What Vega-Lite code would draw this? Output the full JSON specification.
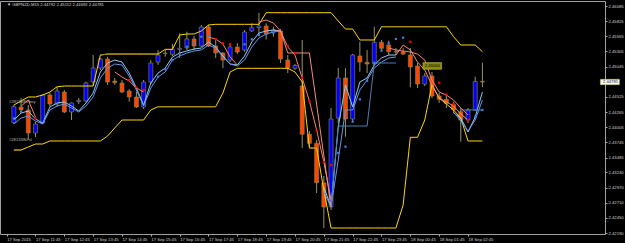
{
"$schema":"https://vega.github.io/schema/vega-lite/v6.json",
"width":605,"height":233,
"autosize":{"type":"none"},
"padding":{"left":0,"top":1,"right":20,"bottom":9},
"background":"#000000",
"config":{
 "view":{"stroke":"#a0a0a0","strokeWidth":1},
 "axis":{"grid":false,"domain":false,"labelFont":"Liberation Sans","labelFontSize":4.2,"labelColor":"#d0d0d0","tickColor":"#b0b0b0","tickSize":2,"labelPadding":1,"labelOverlap":false,"labelBound":false,"labelFlush":false,"labelSeparation":0},
 "text":{"font":"Liberation Sans","fontSize":4.2}
},
"resolve":{"axis":{"x":"independent","y":"independent"}},
"datasets":{
"bars":[
{"t":"2015-09-17T11:00","o":2.44083,"h":2.44386,"l":2.44060,"c":2.44357,"u":2.44386,"d":2.43614,"bd":2.44158},
{"t":"2015-09-17T11:15","o":2.44352,"h":2.44506,"l":2.44266,"c":2.44301,"u":2.44455,"d":2.43614,"bd":2.44271},
{"t":"2015-09-17T11:30","o":2.44301,"h":2.44386,"l":2.43786,"c":2.43906,"u":2.44524,"d":2.43666},
{"t":"2015-09-17T11:45","o":2.43906,"h":2.44095,"l":2.43837,"c":2.44060,"u":2.44524,"d":2.43717,"rd":2.44158},
{"t":"2015-09-17T12:00","o":2.44077,"h":2.44575,"l":2.44060,"c":2.44558,"u":2.44558,"d":2.43717},
{"t":"2015-09-17T12:15","o":2.44558,"h":2.44597,"l":2.44357,"c":2.44403,"u":2.44609,"d":2.43769},
{"t":"2015-09-17T12:30","o":2.44403,"h":2.44700,"l":2.44357,"c":2.44627,"u":2.44700,"d":2.43769},
{"t":"2015-09-17T12:45","o":2.44609,"h":2.44644,"l":2.44249,"c":2.44266,"u":2.44712,"d":2.43769},
{"t":"2015-09-17T13:00","o":2.44266,"h":2.44430,"l":2.44129,"c":2.44421,"u":2.44712,"d":2.43769},
{"t":"2015-09-17T13:15","o":2.44446,"h":2.44506,"l":2.44403,"c":2.44464,"u":2.44712,"d":2.43769},
{"t":"2015-09-17T13:30","o":2.44455,"h":2.44786,"l":2.44438,"c":2.44764,"u":2.44712,"d":2.43769},
{"t":"2015-09-17T13:45","o":2.44781,"h":2.45244,"l":2.44730,"c":2.45021,"u":2.44712,"d":2.43769},
{"t":"2015-09-17T14:00","o":2.45021,"h":2.45193,"l":2.44987,"c":2.45176,"u":2.45244,"d":2.43769},
{"t":"2015-09-17T14:15","o":2.45176,"h":2.45215,"l":2.44730,"c":2.44781,"u":2.45261,"d":2.43854},
{"t":"2015-09-17T14:30","o":2.44798,"h":2.44850,"l":2.44730,"c":2.44769,"u":2.45261,"d":2.43992},
{"t":"2015-09-17T14:45","o":2.44764,"h":2.44815,"l":2.44592,"c":2.44609,"u":2.45261,"d":2.44129},
{"t":"2015-09-17T15:00","o":2.44627,"h":2.44661,"l":2.44443,"c":2.44524,"u":2.45261,"d":2.44129,"rd":2.44815},
{"t":"2015-09-17T15:15","o":2.44524,"h":2.44615,"l":2.44335,"c":2.44352,"u":2.45261,"d":2.44129,"rd":2.44690},
{"t":"2015-09-17T15:30","o":2.44352,"h":2.44815,"l":2.44318,"c":2.44781,"u":2.45261,"d":2.44129,"rd":2.44644},
{"t":"2015-09-17T15:45","o":2.44781,"h":2.45158,"l":2.44747,"c":2.45107,"u":2.45261,"d":2.44301},
{"t":"2015-09-17T16:00","o":2.45124,"h":2.45330,"l":2.45073,"c":2.45244,"u":2.45261,"d":2.44357,"bd":2.44872},
{"t":"2015-09-17T16:15","o":2.45270,"h":2.45330,"l":2.45215,"c":2.45279,"u":2.45342,"d":2.44357,"bd":2.44999},
{"t":"2015-09-17T16:30","o":2.45256,"h":2.45433,"l":2.45227,"c":2.45342,"u":2.45342,"d":2.44357,"bd":2.45158},
{"t":"2015-09-17T16:45","o":2.45342,"h":2.45617,"l":2.45193,"c":2.45359,"u":2.45587,"d":2.44357,"bd":2.45273},
{"t":"2015-09-17T17:00","o":2.45364,"h":2.45644,"l":2.45330,"c":2.45519,"u":2.45605,"d":2.44357,"bd":2.45387},
{"t":"2015-09-17T17:15","o":2.45519,"h":2.45570,"l":2.45330,"c":2.45399,"u":2.45605,"d":2.44357,"bd":2.45445},
{"t":"2015-09-17T17:30","o":2.45399,"h":2.45759,"l":2.45381,"c":2.45725,"u":2.45656,"d":2.44357,"bd":2.45558},
{"t":"2015-09-17T17:45","o":2.45725,"h":2.45759,"l":2.45381,"c":2.45399,"u":2.45759,"d":2.44357,"bd":2.45570},
{"t":"2015-09-17T18:00","o":2.45399,"h":2.45502,"l":2.45193,"c":2.45279,"u":2.45771,"d":2.44357,"rd":2.45519},
{"t":"2015-09-17T18:15","o":2.45279,"h":2.45296,"l":2.45021,"c":2.45158,"u":2.45771,"d":2.44592,"rd":2.45445},
{"t":"2015-09-17T18:30","o":2.45158,"h":2.45450,"l":2.45124,"c":2.45381,"u":2.45771,"d":2.44953,"rd":2.45428},
{"t":"2015-09-17T18:45","o":2.45381,"h":2.45450,"l":2.45261,"c":2.45296,"u":2.45771,"d":2.45016},
{"t":"2015-09-17T19:00","o":2.45330,"h":2.45673,"l":2.45301,"c":2.45639,"u":2.45771,"d":2.45016,"bd":2.45428},
{"t":"2015-09-17T19:15","o":2.45656,"h":2.45788,"l":2.45639,"c":2.45713,"u":2.45771,"d":2.45016,"bd":2.45514},
{"t":"2015-09-17T19:30","o":2.45716,"h":2.45965,"l":2.45605,"c":2.45742,"u":2.45771,"d":2.45016,"bd":2.45587},
{"t":"2015-09-17T19:45","o":2.45742,"h":2.45788,"l":2.45514,"c":2.45605,"u":2.45970,"d":2.45016,"bd":2.45605},
{"t":"2015-09-17T20:00","o":2.45639,"h":2.45730,"l":2.45558,"c":2.45673,"u":2.45970,"d":2.45016,"bd":2.45627},
{"t":"2015-09-17T20:15","o":2.45656,"h":2.45690,"l":2.45107,"c":2.45176,"u":2.45970,"d":2.45016},
{"t":"2015-09-17T20:30","o":2.45158,"h":2.45244,"l":2.44935,"c":2.45021,"u":2.45970,"d":2.45016,"rd":2.45399},
{"t":"2015-09-17T20:45","o":2.45016,"h":2.45090,"l":2.44987,"c":2.45064,"u":2.45970,"d":2.44953,"rd":2.45273},
{"t":"2015-09-17T21:00","o":2.44712,"h":2.45502,"l":2.43648,"c":2.43884,"u":2.45970,"d":2.44781,"rd":2.44855},
{"t":"2015-09-17T21:15","o":2.43884,"h":2.43940,"l":2.43666,"c":2.43729,"u":2.45970,"d":2.43648,"rd":2.44455},
{"t":"2015-09-17T21:30","o":2.43729,"h":2.43786,"l":2.42876,"c":2.43053,"u":2.45970,"d":2.43648,"rd":2.43945},
{"t":"2015-09-17T21:45","o":2.43048,"h":2.43168,"l":2.42276,"c":2.42636,"u":2.45970,"d":2.42928,"rd":2.43413},
{"t":"2015-09-17T22:00","o":2.42636,"h":2.44335,"l":2.42585,"c":2.44146,"u":2.45970,"d":2.42276,"rd":2.43357},
{"t":"2015-09-17T22:15","o":2.44163,"h":2.45021,"l":2.44077,"c":2.44850,"u":2.45828,"d":2.42276,"bd":2.43563},
{"t":"2015-09-17T22:30","o":2.44850,"h":2.45016,"l":2.43842,"c":2.44146,"u":2.45690,"d":2.42276,"bd":2.43671},
{"t":"2015-09-17T22:45","o":2.44146,"h":2.45261,"l":2.44112,"c":2.45244,"u":2.45690,"d":2.42276,"bd":2.44100},
{"t":"2015-09-17T23:00","o":2.45227,"h":2.45472,"l":2.44958,"c":2.45124,"u":2.45502,"d":2.42276,"bd":2.44484},
{"t":"2015-09-17T23:15","o":2.45119,"h":2.45330,"l":2.44935,"c":2.45090,"u":2.45502,"d":2.42276,"bd":2.44803},
{"t":"2015-09-17T23:30","o":2.45090,"h":2.45730,"l":2.45073,"c":2.45462,"u":2.45502,"d":2.42276,"bd":2.45112},
{"t":"2015-09-17T23:45","o":2.45462,"h":2.45502,"l":2.45313,"c":2.45359,"u":2.45730,"d":2.42276,"bd":2.45318},
{"t":"2015-09-18T00:00","o":2.45416,"h":2.45490,"l":2.45244,"c":2.45301,"u":2.45730,"d":2.42276,"bd":2.45445},
{"t":"2015-09-18T00:15","o":2.45304,"h":2.45364,"l":2.45244,"c":2.45297,"u":2.45730,"d":2.42276,"bd":2.45519},
{"t":"2015-09-18T00:30","o":2.45301,"h":2.45364,"l":2.45244,"c":2.45261,"u":2.45730,"d":2.42670,"bd":2.45541},
{"t":"2015-09-18T00:45","o":2.45244,"h":2.45364,"l":2.44690,"c":2.45038,"u":2.45730,"d":2.43832,"rd":2.45472},
{"t":"2015-09-18T01:00","o":2.45056,"h":2.45107,"l":2.44678,"c":2.44747,"u":2.45730,"d":2.43832},
{"t":"2015-09-18T01:15","o":2.44747,"h":2.44935,"l":2.44712,"c":2.44884,"u":2.45730,"d":2.44129},
{"t":"2015-09-18T01:30","o":2.44884,"h":2.44953,"l":2.44506,"c":2.44541,"u":2.45730,"d":2.44730},
{"t":"2015-09-18T01:45","o":2.44541,"h":2.44592,"l":2.44421,"c":2.44484,"u":2.45730,"d":2.44506,"rd":2.44769},
{"t":"2015-09-18T02:00","o":2.44484,"h":2.44558,"l":2.44335,"c":2.44415,"u":2.45730,"d":2.44403,"rd":2.44567},
{"t":"2015-09-18T02:15","o":2.44398,"h":2.44443,"l":2.44249,"c":2.44301,"u":2.45558,"d":2.44301,"rd":2.44398},
{"t":"2015-09-18T02:30","o":2.44271,"h":2.44335,"l":2.43757,"c":2.44129,"u":2.45416,"d":2.44163},
{"t":"2015-09-18T02:45","o":2.44129,"h":2.44335,"l":2.44077,"c":2.44301,"u":2.45416,"d":2.43769,"rd":2.44129},
{"t":"2015-09-18T03:00","o":2.44301,"h":2.44872,"l":2.44283,"c":2.44790,"u":2.45416,"d":2.43769,"bd":2.44186},
{"t":"2015-09-18T03:15","o":2.44792,"h":2.45112,"l":2.44692,"c":2.44781,"u":2.45301,"d":2.43769,"bd":2.44301}
],
"lines":[
{"s":"b1","g":1,"t":"2015-09-17T11:00","v":2.44129},{"s":"b1","g":1,"t":"2015-09-17T11:15","v":2.44249},{"s":"b1","g":1,"t":"2015-09-17T11:30","v":2.44283},{"s":"b1","g":1,"t":"2015-09-17T11:45","v":2.44146},{"s":"b1","g":1,"t":"2015-09-17T12:00","v":2.44077},{"s":"b1","g":1,"t":"2015-09-17T12:15","v":2.44352},{"s":"b1","g":1,"t":"2015-09-17T12:30","v":2.44421},{"s":"b1","g":1,"t":"2015-09-17T12:45","v":2.44438},{"s":"b1","g":1,"t":"2015-09-17T13:00","v":2.44369},{"s":"b1","g":1,"t":"2015-09-17T13:15","v":2.44283},{"s":"b1","g":1,"t":"2015-09-17T13:30","v":2.44421},{"s":"b1","g":1,"t":"2015-09-17T13:45","v":2.44592},{"s":"b1","g":1,"t":"2015-09-17T14:00","v":2.44953},{"s":"b1","g":1,"t":"2015-09-17T14:15","v":2.45107},{"s":"b1","g":1,"t":"2015-09-17T14:30","v":2.45158},{"s":"b1","g":1,"t":"2015-09-17T14:45","v":2.45124},{"s":"b1","g":1,"t":"2015-09-17T15:00","v":2.44935},{"s":"b1","g":1,"t":"2015-09-17T15:15","v":2.44678},{"s":"b1","g":1,"t":"2015-09-17T15:30","v":2.44386},{"s":"b1","g":1,"t":"2015-09-17T15:45","v":2.44764},{"s":"b1","g":1,"t":"2015-09-17T16:00","v":2.44935},{"s":"b1","g":1,"t":"2015-09-17T16:15","v":2.45021},{"s":"b1","g":1,"t":"2015-09-17T16:30","v":2.45210},{"s":"b1","g":1,"t":"2015-09-17T16:45","v":2.45279},{"s":"b1","g":1,"t":"2015-09-17T17:00","v":2.45313},{"s":"b1","g":1,"t":"2015-09-17T17:15","v":2.45347},{"s":"b1","g":1,"t":"2015-09-17T17:30","v":2.45364},{"s":"b1","g":1,"t":"2015-09-17T17:45","v":2.45467},{"s":"b1","g":1,"t":"2015-09-17T18:00","v":2.45381},{"s":"b1","g":1,"t":"2015-09-17T18:15","v":2.45227},{"s":"b1","g":1,"t":"2015-09-17T18:30","v":2.45090},{"s":"b1","g":1,"t":"2015-09-17T18:45","v":2.45073},{"s":"b1","g":1,"t":"2015-09-17T19:00","v":2.45227},{"s":"b1","g":1,"t":"2015-09-17T19:15","v":2.45467},{"s":"b1","g":1,"t":"2015-09-17T19:30","v":2.45622},{"s":"b1","g":1,"t":"2015-09-17T19:45","v":2.45656},{"s":"b1","g":1,"t":"2015-09-17T20:00","v":2.45673},{"s":"b1","g":1,"t":"2015-09-17T20:15","v":2.45656},
{"s":"b2","g":1,"t":"2015-09-17T11:00","v":2.44060},{"s":"b2","g":1,"t":"2015-09-17T11:15","v":2.44163},{"s":"b2","g":1,"t":"2015-09-17T11:30","v":2.44198},{"s":"b2","g":1,"t":"2015-09-17T11:45","v":2.44112},{"s":"b2","g":1,"t":"2015-09-17T12:00","v":2.44060},{"s":"b2","g":1,"t":"2015-09-17T12:15","v":2.44301},{"s":"b2","g":1,"t":"2015-09-17T12:30","v":2.44369},{"s":"b2","g":1,"t":"2015-09-17T12:45","v":2.44403},{"s":"b2","g":1,"t":"2015-09-17T13:00","v":2.44335},{"s":"b2","g":1,"t":"2015-09-17T13:15","v":2.44266},{"s":"b2","g":1,"t":"2015-09-17T13:30","v":2.44369},{"s":"b2","g":1,"t":"2015-09-17T13:45","v":2.44524},{"s":"b2","g":1,"t":"2015-09-17T14:00","v":2.44850},{"s":"b2","g":1,"t":"2015-09-17T14:15","v":2.45021},{"s":"b2","g":1,"t":"2015-09-17T14:30","v":2.45090},{"s":"b2","g":1,"t":"2015-09-17T14:45","v":2.45073},{"s":"b2","g":1,"t":"2015-09-17T15:00","v":2.44884},{"s":"b2","g":1,"t":"2015-09-17T15:15","v":2.44644},{"s":"b2","g":1,"t":"2015-09-17T15:30","v":2.44369},{"s":"b2","g":1,"t":"2015-09-17T15:45","v":2.44678},{"s":"b2","g":1,"t":"2015-09-17T16:00","v":2.44867},{"s":"b2","g":1,"t":"2015-09-17T16:15","v":2.44953},{"s":"b2","g":1,"t":"2015-09-17T16:30","v":2.45158},{"s":"b2","g":1,"t":"2015-09-17T16:45","v":2.45227},{"s":"b2","g":1,"t":"2015-09-17T17:00","v":2.45279},{"s":"b2","g":1,"t":"2015-09-17T17:15","v":2.45313},{"s":"b2","g":1,"t":"2015-09-17T17:30","v":2.45330},{"s":"b2","g":1,"t":"2015-09-17T17:45","v":2.45416},{"s":"b2","g":1,"t":"2015-09-17T18:00","v":2.45364},{"s":"b2","g":1,"t":"2015-09-17T18:15","v":2.45210},{"s":"b2","g":1,"t":"2015-09-17T18:30","v":2.45090},{"s":"b2","g":1,"t":"2015-09-17T18:45","v":2.45056},{"s":"b2","g":1,"t":"2015-09-17T19:00","v":2.45158},{"s":"b2","g":1,"t":"2015-09-17T19:15","v":2.45381},{"s":"b2","g":1,"t":"2015-09-17T19:30","v":2.45536},{"s":"b2","g":1,"t":"2015-09-17T19:45","v":2.45605},{"s":"b2","g":1,"t":"2015-09-17T20:00","v":2.45639},{"s":"b2","g":1,"t":"2015-09-17T20:15","v":2.45656},
{"s":"b1","g":2,"t":"2015-09-17T21:45","v":2.42979},{"s":"b1","g":2,"t":"2015-09-17T22:00","v":2.42636},{"s":"b1","g":2,"t":"2015-09-17T22:15","v":2.44009},{"s":"b1","g":2,"t":"2015-09-17T22:30","v":2.44730},{"s":"b1","g":2,"t":"2015-09-17T22:45","v":2.44352},{"s":"b1","g":2,"t":"2015-09-17T23:00","v":2.44781},{"s":"b1","g":2,"t":"2015-09-17T23:15","v":2.44850},{"s":"b1","g":2,"t":"2015-09-17T23:30","v":2.45073},{"s":"b1","g":2,"t":"2015-09-17T23:45","v":2.45193},{"s":"b1","g":2,"t":"2015-09-18T00:00","v":2.45244},{"s":"b1","g":2,"t":"2015-09-18T00:15","v":2.45244},
{"s":"b2","g":2,"t":"2015-09-17T21:45","v":2.42894},{"s":"b2","g":2,"t":"2015-09-17T22:00","v":2.42636},{"s":"b2","g":2,"t":"2015-09-17T22:15","v":2.43443},{"s":"b2","g":2,"t":"2015-09-17T22:30","v":2.44301},{"s":"b2","g":2,"t":"2015-09-17T22:45","v":2.44301},{"s":"b2","g":2,"t":"2015-09-17T23:00","v":2.44644},{"s":"b2","g":2,"t":"2015-09-17T23:15","v":2.44815},{"s":"b2","g":2,"t":"2015-09-17T23:30","v":2.45021},{"s":"b2","g":2,"t":"2015-09-17T23:45","v":2.45124},{"s":"b2","g":2,"t":"2015-09-18T00:00","v":2.45193},{"s":"b2","g":2,"t":"2015-09-18T00:15","v":2.45210},
{"s":"b1","g":3,"t":"2015-09-18T02:15","v":2.44249},{"s":"b1","g":3,"t":"2015-09-18T02:30","v":2.44163},{"s":"b1","g":3,"t":"2015-09-18T02:45","v":2.43923},{"s":"b1","g":3,"t":"2015-09-18T03:00","v":2.44180},{"s":"b1","g":3,"t":"2015-09-18T03:15","v":2.44609},
{"s":"b2","g":3,"t":"2015-09-18T02:15","v":2.44266},{"s":"b2","g":3,"t":"2015-09-18T02:30","v":2.44112},{"s":"b2","g":3,"t":"2015-09-18T02:45","v":2.43940},{"s":"b2","g":3,"t":"2015-09-18T03:00","v":2.44129},{"s":"b2","g":3,"t":"2015-09-18T03:15","v":2.44472},
{"s":"st","g":1,"t":"2015-09-17T22:00","v":2.42636},{"s":"st","g":1,"t":"2015-09-17T22:15","v":2.44026},{"s":"st","g":1,"t":"2015-09-17T22:30","v":2.44026},{"s":"st","g":1,"t":"2015-09-17T22:45","v":2.44026},{"s":"st","g":1,"t":"2015-09-17T23:00","v":2.44026},{"s":"st","g":1,"t":"2015-09-17T23:15","v":2.44026},{"s":"st","g":1,"t":"2015-09-17T23:30","v":2.45107},{"s":"st","g":1,"t":"2015-09-17T23:45","v":2.45107},{"s":"st","g":1,"t":"2015-09-18T00:00","v":2.45107},{"s":"st","g":1,"t":"2015-09-18T00:15","v":2.45107},
{"s":"st","g":2,"t":"2015-09-18T02:30","v":2.44301},{"s":"st","g":2,"t":"2015-09-18T02:45","v":2.44301},{"s":"st","g":2,"t":"2015-09-18T03:00","v":2.44301},{"s":"st","g":2,"t":"2015-09-18T03:15","v":2.44301},
{"s":"s1","g":1,"t":"2015-09-17T11:15","v":2.44369},{"s":"s1","g":1,"t":"2015-09-17T11:30","v":2.44472},{"s":"s1","g":1,"t":"2015-09-17T11:45","v":2.44180},
{"s":"s1","g":2,"t":"2015-09-17T14:30","v":2.44953},{"s":"s1","g":2,"t":"2015-09-17T14:45","v":2.44867},{"s":"s1","g":2,"t":"2015-09-17T15:00","v":2.44798},{"s":"s1","g":2,"t":"2015-09-17T15:15","v":2.44678},{"s":"s1","g":2,"t":"2015-09-17T15:30","v":2.44609},
{"s":"s1","g":3,"t":"2015-09-17T17:45","v":2.45553},{"s":"s1","g":3,"t":"2015-09-17T18:00","v":2.45519},{"s":"s1","g":3,"t":"2015-09-17T18:15","v":2.45433},{"s":"s1","g":3,"t":"2015-09-17T18:30","v":2.45210},{"s":"s1","g":3,"t":"2015-09-17T18:45","v":2.45073},
{"s":"s1","g":4,"t":"2015-09-17T19:30","v":2.45811},{"s":"s1","g":4,"t":"2015-09-17T19:45","v":2.45845},{"s":"s1","g":4,"t":"2015-09-17T20:00","v":2.45793},{"s":"s1","g":4,"t":"2015-09-17T20:15","v":2.45656},{"s":"s1","g":4,"t":"2015-09-17T20:30","v":2.45381},{"s":"s1","g":4,"t":"2015-09-17T20:45","v":2.45244},{"s":"s1","g":4,"t":"2015-09-17T21:00","v":2.44850},{"s":"s1","g":4,"t":"2015-09-17T21:15","v":2.44455},{"s":"s1","g":4,"t":"2015-09-17T21:30","v":2.43957},{"s":"s1","g":4,"t":"2015-09-17T21:45","v":2.43408},{"s":"s1","g":4,"t":"2015-09-17T22:00","v":2.42756},
{"s":"s1","g":5,"t":"2015-09-18T00:00","v":2.45364},{"s":"s1","g":5,"t":"2015-09-18T00:15","v":2.45330},{"s":"s1","g":5,"t":"2015-09-18T00:30","v":2.45313},{"s":"s1","g":5,"t":"2015-09-18T00:45","v":2.45296},{"s":"s1","g":5,"t":"2015-09-18T01:00","v":2.45261},{"s":"s1","g":5,"t":"2015-09-18T01:15","v":2.45158},{"s":"s1","g":5,"t":"2015-09-18T01:30","v":2.44815},{"s":"s1","g":5,"t":"2015-09-18T01:45","v":2.44609},{"s":"s1","g":5,"t":"2015-09-18T02:00","v":2.44558},{"s":"s1","g":5,"t":"2015-09-18T02:15","v":2.44472},{"s":"s1","g":5,"t":"2015-09-18T02:30","v":2.44335},{"s":"s1","g":5,"t":"2015-09-18T02:45","v":2.44215},
{"s":"s2","g":1,"t":"2015-09-17T20:00","v":2.45673},{"s":"s2","g":1,"t":"2015-09-17T20:15","v":2.45656},{"s":"s2","g":1,"t":"2015-09-17T20:30","v":2.45279},{"s":"s2","g":1,"t":"2015-09-17T20:45","v":2.45279},{"s":"s2","g":1,"t":"2015-09-17T21:00","v":2.45279},{"s":"s2","g":1,"t":"2015-09-17T21:15","v":2.45279},{"s":"s2","g":1,"t":"2015-09-17T22:00","v":2.42636},
{"s":"s2","g":2,"t":"2015-09-18T00:15","v":2.45244},{"s":"s2","g":2,"t":"2015-09-18T00:30","v":2.45416},{"s":"s2","g":2,"t":"2015-09-18T00:45","v":2.45330},{"s":"s2","g":2,"t":"2015-09-18T01:00","v":2.45124},{"s":"s2","g":2,"t":"2015-09-18T01:15","v":2.44987},{"s":"s2","g":2,"t":"2015-09-18T01:30","v":2.44730},{"s":"s2","g":2,"t":"2015-09-18T01:45","v":2.44506},{"s":"s2","g":2,"t":"2015-09-18T02:00","v":2.44438},{"s":"s2","g":2,"t":"2015-09-18T02:15","v":2.44369},{"s":"s2","g":2,"t":"2015-09-18T02:30","v":2.44232},{"s":"s2","g":2,"t":"2015-09-18T02:45","v":2.44129},
{"s":"ol","g":1,"t":"2015-09-17T11:00","v":2.43614},{"s":"ol","g":1,"t":"2015-09-17T11:15","v":2.43614},
{"s":"ol","g":2,"t":"2015-09-17T14:00","v":2.45244},{"s":"ol","g":2,"t":"2015-09-17T14:15","v":2.45261},{"s":"ol","g":2,"t":"2015-09-17T14:30","v":2.45261},{"s":"ol","g":2,"t":"2015-09-17T14:45","v":2.45261},{"s":"ol","g":2,"t":"2015-09-17T15:00","v":2.45261},{"s":"ol","g":2,"t":"2015-09-17T15:15","v":2.45261},{"s":"ol","g":2,"t":"2015-09-17T15:30","v":2.45261},{"s":"ol","g":2,"t":"2015-09-17T15:45","v":2.45261},{"s":"ol","g":2,"t":"2015-09-17T16:00","v":2.45261},
{"s":"ol","g":3,"t":"2015-09-17T16:00","v":2.44357},{"s":"ol","g":3,"t":"2015-09-17T16:15","v":2.44357},{"s":"ol","g":3,"t":"2015-09-17T16:30","v":2.44357},{"s":"ol","g":3,"t":"2015-09-17T16:45","v":2.44357},{"s":"ol","g":3,"t":"2015-09-17T17:00","v":2.44357},{"s":"ol","g":3,"t":"2015-09-17T17:15","v":2.44357},{"s":"ol","g":3,"t":"2015-09-17T17:30","v":2.44357},{"s":"ol","g":3,"t":"2015-09-17T17:45","v":2.44357},{"s":"ol","g":3,"t":"2015-09-17T18:00","v":2.44357},
{"s":"ol","g":4,"t":"2015-09-17T21:15","v":2.43648},{"s":"ol","g":4,"t":"2015-09-17T21:30","v":2.43648},
{"s":"ol","g":5,"t":"2015-09-17T23:45","v":2.45730},{"s":"ol","g":5,"t":"2015-09-18T00:00","v":2.45730},{"s":"ol","g":5,"t":"2015-09-18T00:15","v":2.45730},{"s":"ol","g":5,"t":"2015-09-18T00:30","v":2.45730},{"s":"ol","g":5,"t":"2015-09-18T00:45","v":2.45730},{"s":"ol","g":5,"t":"2015-09-18T01:00","v":2.45730},{"s":"ol","g":5,"t":"2015-09-18T01:15","v":2.45730},{"s":"ol","g":5,"t":"2015-09-18T01:30","v":2.45730},{"s":"ol","g":5,"t":"2015-09-18T01:45","v":2.45730},{"s":"ol","g":5,"t":"2015-09-18T02:00","v":2.45730}
]
},
"layer":[
{"mark":{"type":"rule","color":"#a8a8a8","strokeWidth":1,"strokeDash":[5,2,1,2]},
 "encoding":{"y":{"datum":2.44386,"type":"quantitative","axis":null,"scale":{"domain":[2.42173,2.46171],"zero":false,"nice":false}}}},
{"mark":{"type":"rule","color":"#c83214","strokeWidth":1,"strokeDash":[5,2,1,2]},
 "encoding":{"y":{"datum":2.43717,"type":"quantitative","axis":null,"scale":{"domain":[2.42173,2.46171],"zero":false,"nice":false}}}},
{"data":{"name":"bars"},
 "mark":{"type":"rule","color":"#99965f","strokeWidth":1},
 "encoding":{
  "x":{"field":"t","type":"temporal","title":null,
   "scale":{"domain":[{"year":2015,"month":9,"date":17,"hours":10,"minutes":41,"seconds":34},{"year":2015,"month":9,"date":18,"hours":7,"minutes":19,"seconds":40}]},
   "axis":{"orient":"bottom","labelAlign":"left","labelBaseline":"top","labelAngle":0,"labelOverlap":false,"labelBound":false,"labelFlush":false,"labelSeparation":0,
    "values":[{"year":2015,"month":9,"date":17,"hours":10,"minutes":45},{"year":2015,"month":9,"date":17,"hours":11,"minutes":45},{"year":2015,"month":9,"date":17,"hours":12,"minutes":45},{"year":2015,"month":9,"date":17,"hours":13,"minutes":45},{"year":2015,"month":9,"date":17,"hours":14,"minutes":45},{"year":2015,"month":9,"date":17,"hours":15,"minutes":45},{"year":2015,"month":9,"date":17,"hours":16,"minutes":45},{"year":2015,"month":9,"date":17,"hours":17,"minutes":45},{"year":2015,"month":9,"date":17,"hours":18,"minutes":45},{"year":2015,"month":9,"date":17,"hours":19,"minutes":45},{"year":2015,"month":9,"date":17,"hours":20,"minutes":45},{"year":2015,"month":9,"date":17,"hours":21,"minutes":45},{"year":2015,"month":9,"date":17,"hours":22,"minutes":45},{"year":2015,"month":9,"date":17,"hours":23,"minutes":45},{"year":2015,"month":9,"date":18,"hours":0,"minutes":45},{"year":2015,"month":9,"date":18,"hours":1,"minutes":45},{"year":2015,"month":9,"date":18,"hours":2,"minutes":45}],
    "labelExpr":"timeFormat(datum.value,'%d %H:%M')=='17 10:45' ? '17 Sep 2015' : timeFormat(datum.value,'%d %b %H:%M')"}},
  "y":{"field":"l","type":"quantitative","title":null,"scale":{"domain":[2.42173,2.46171],"zero":false,"nice":false},
   "axis":{"orient":"right","format":".5f","labelAlign":"left","labelOverlap":false,"labelBound":false,"labelFlush":false,"labelSeparation":0,"values":[2.46085,2.45825,2.45565,2.45305,2.45045,2.44525,2.44265,2.44005,2.43745,2.43485,2.4323,2.4297,2.4271,2.4245,2.4219]}},
  "y2":{"field":"h"}}},
{"data":{"name":"bars"},
 "mark":{"type":"bar","width":4,"stroke":"#8c8a50","strokeWidth":0.6},
 "encoding":{
  "x":{"field":"t","type":"temporal","axis":null},
  "y":{"field":"o","type":"quantitative","axis":null,"scale":{"domain":[2.42173,2.46171],"zero":false,"nice":false}},
  "y2":{"field":"c"},
  "color":{"condition":{"test":"datum.c >= datum.o","value":"#0000ff"},"value":"#ff4500"}}},
{"data":{"name":"bars"},
 "mark":{"type":"line","color":"#ffd700","strokeWidth":1},
 "encoding":{"x":{"field":"t","type":"temporal","axis":null},"y":{"field":"u","type":"quantitative","axis":null,"scale":{"domain":[2.42173,2.46171],"zero":false,"nice":false}}}},
{"data":{"name":"bars"},
 "mark":{"type":"line","color":"#ffd700","strokeWidth":1},
 "encoding":{"x":{"field":"t","type":"temporal","axis":null},"y":{"field":"d","type":"quantitative","axis":null,"scale":{"domain":[2.42173,2.46171],"zero":false,"nice":false}}}},
{"data":{"name":"lines"},
 "mark":{"type":"line","strokeWidth":1},
 "encoding":{"x":{"field":"t","type":"temporal","axis":null},"y":{"field":"v","type":"quantitative","axis":null,"scale":{"domain":[2.42173,2.46171],"zero":false,"nice":false}},
  "color":{"field":"s","type":"nominal","legend":null,"scale":{"domain":["ol","b2","b1","st","s2","s1"],"range":["#a08418","#6495ED","#87CEFA","#4682B4","#F0907A","#FA8072"]}},
  "detail":{"field":"g","type":"nominal"}}},
{"data":{"name":"bars"},
 "mark":{"type":"point","shape":"square","filled":true,"size":5,"color":"#ff0000","opacity":1},
 "encoding":{"x":{"field":"t","type":"temporal","axis":null},"y":{"field":"rd","type":"quantitative","axis":null,"scale":{"domain":[2.42173,2.46171],"zero":false,"nice":false}}}},
{"data":{"name":"bars"},
 "mark":{"type":"point","shape":"square","filled":true,"size":5,"color":"#3c7ee0","opacity":1},
 "encoding":{"x":{"field":"t","type":"temporal","axis":null},"y":{"field":"bd","type":"quantitative","axis":null,"scale":{"domain":[2.42173,2.46171],"zero":false,"nice":false}}}},
{"data":{"values":[{"t":"2015-09-18T01:11:15","t2":"2015-09-18T01:50:06","p":2.45115,"p2":2.44999},{"t":"2015-09-18T07:20:30","t2":"2015-09-18T08:00:00","p":2.44827,"p2":2.44735}]},
 "mark":{"type":"rect","stroke":"#c8c832","strokeWidth":0.5},
 "encoding":{"x":{"field":"t","type":"temporal","axis":null},"x2":{"field":"t2"},"y":{"field":"p","type":"quantitative","axis":null,"scale":{"domain":[2.42173,2.46171],"zero":false,"nice":false}},"y2":{"field":"p2"},
  "color":{"condition":{"test":"datum.p > 2.45","value":"#8a8a10"},"value":"#ffffff"}}},
{"data":{"values":[{"t":"2015-09-18T01:30:40","p":2.45057,"txt":"2.45064"}]},
 "mark":{"type":"text","align":"center","baseline":"middle","color":"#000000"},
 "encoding":{"x":{"field":"t","type":"temporal","axis":null},"y":{"field":"p","type":"quantitative","axis":null,"scale":{"domain":[2.42173,2.46171],"zero":false,"nice":false}},"text":{"field":"txt"}}},
{"data":{"values":[{"t":"2015-09-18T07:25:48","p":2.44781,"txt":"2.44781"}]},
 "mark":{"type":"text","align":"left","baseline":"middle","color":"#000000"},
 "encoding":{"x":{"field":"t","type":"temporal","axis":null},"y":{"field":"p","type":"quantitative","axis":null,"scale":{"domain":[2.42173,2.46171],"zero":false,"nice":false}},"text":{"field":"txt"}}},
{"data":{"values":[{"t":"2015-09-17T10:45:40","p":2.46102,"txt":"▼ GBPNZD,M15  2.44792 2.45112 2.44692 2.44781"}]},
 "mark":{"type":"text","align":"left","baseline":"middle","color":"#d8d8d8"},
 "encoding":{"x":{"field":"t","type":"temporal","axis":null},"y":{"field":"p","type":"quantitative","axis":null,"scale":{"domain":[2.42173,2.46171],"zero":false,"nice":false}},"text":{"field":"txt"}}},
{"data":{"values":[{"t":"2015-09-17T10:49:45","p":2.44446,"txt":"#2813380 buy"},{"t":"2015-09-17T10:49:45","p":2.43778,"txt":"#2813380 sl"}]},
 "mark":{"type":"text","align":"left","baseline":"middle","color":"#b8b8b8"},
 "encoding":{"x":{"field":"t","type":"temporal","axis":null},"y":{"field":"p","type":"quantitative","axis":null,"scale":{"domain":[2.42173,2.46171],"zero":false,"nice":false}},"text":{"field":"txt"}}}
]
}
